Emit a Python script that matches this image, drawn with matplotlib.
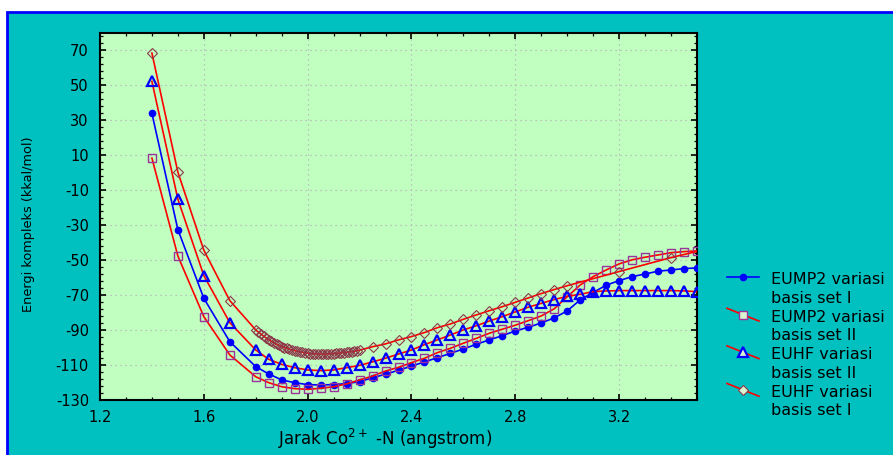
import matplotlib
matplotlib.use('Agg')
import matplotlib.pyplot as plt
from matplotlib.lines import Line2D
from matplotlib.legend_handler import HandlerBase
from matplotlib.patches import Rectangle
from matplotlib.ticker import MultipleLocator

plt.rcParams['font.family'] = ['DejaVu Sans']

# ---------------- data ----------------
x_main = [1.4, 1.5, 1.6, 1.7, 1.8, 1.85, 1.9, 1.95, 2.0, 2.05, 2.1, 2.15, 2.2,
          2.25, 2.3, 2.35, 2.4, 2.45, 2.5, 2.55, 2.6, 2.65, 2.7, 2.75, 2.8,
          2.85, 2.9, 2.95, 3.0, 3.05, 3.1, 3.15, 3.2, 3.25, 3.3, 3.35, 3.4,
          3.45, 3.5]

eump2_set1 = [34.0, -32.5, -71.8, -96.6, -110.9, -115.1, -118.5, -120.1, -121.2,
              -121.4, -121.2, -120.6, -119.5, -117.3, -115.2, -113.0, -110.6,
              -108.2, -105.8, -103.3, -100.8, -98.1, -95.6, -93.2, -90.5, -88.4,
              -85.9, -83.0, -79.0, -72.7, -68.5, -64.3, -61.7, -59.4, -57.9,
              -56.3, -55.6, -54.8, -54.4]

eump2_set2 = [8.4, -47.6, -82.3, -104.2, -116.7, -120.1, -122.4, -123.5, -123.9,
              -123.3, -122.4, -120.8, -118.5, -116.3, -113.4, -111.3, -108.6,
              -106.1, -102.9, -100.4, -97.5, -94.7, -91.8, -89.5, -87.2, -84.6,
              -81.9, -77.8, -70.9, -64.2, -59.4, -55.6, -52.1, -49.8, -48.3,
              -47.0, -45.7, -45.1, -44.7]

euhf_set2 = [52.3, -15.1, -58.8, -85.7, -101.4, -106.7, -109.6, -111.5, -112.8,
             -113.2, -112.8, -111.5, -110.2, -108.2, -106.1, -103.7, -101.4,
             -98.3, -95.6, -92.8, -89.9, -87.5, -84.8, -82.3, -79.6, -76.9,
             -74.7, -72.5, -70.7, -69.5, -68.0, -67.6, -67.4, -67.4, -67.4,
             -67.4, -67.4, -67.6, -68.0]

x_euhf_set1 = [1.4, 1.5, 1.6, 1.7,
               1.80, 1.81, 1.82, 1.83, 1.84, 1.85, 1.86, 1.87, 1.88, 1.89,
               1.90, 1.91, 1.92, 1.93, 1.94, 1.95, 1.96, 1.97, 1.98, 1.99,
               2.00, 2.01, 2.02, 2.03, 2.04, 2.05, 2.06, 2.07, 2.08, 2.09,
               2.10, 2.11, 2.12, 2.13, 2.14, 2.15, 2.16, 2.17, 2.18, 2.19, 2.20,
               2.25, 2.3, 2.35, 2.4, 2.45, 2.5, 2.55, 2.6, 2.65, 2.7, 2.75, 2.8,
               2.85, 2.9, 2.95, 3.0, 3.2, 3.4, 3.6]

euhf_set1 = [68.5, 0.4, -44.3, -73.1,
             -89.9, -91.1, -92.3, -93.4, -94.5, -95.5, -96.4, -97.2, -98.0, -98.8,
             -99.5, -100.0, -100.5, -101.0, -101.4, -101.8, -102.1, -102.4, -102.7, -103.0,
             -103.2, -103.4, -103.5, -103.6, -103.7, -103.7, -103.7, -103.7, -103.6, -103.5,
             -103.4, -103.3, -103.2, -103.0, -102.9, -102.7, -102.5, -102.3, -102.1, -101.8, -101.5,
             -99.5, -97.9, -95.6, -93.7, -91.4, -88.6, -86.5, -83.8, -81.3, -78.9, -76.6, -74.1,
             -71.6, -69.1, -66.8, -64.6, -56.5, -48.5, -41.5]

labels = ['EUMP2 variasi\nbasis set I', 'EUMP2 variasi\nbasis set II',
          'EUHF variasi\nbasis set II', 'EUHF variasi\nbasis set I']

x_ticks = [1.2, 1.6, 2.0, 2.4, 2.8, 3.2]
y_ticks = [70, 50, 30, 10, -10, -30, -50, -70, -90, -110, -130]

# ---------------- figure ----------------
W, H = 893, 455
fig = plt.figure(figsize=(W / 100, H / 100), dpi=100, facecolor='white')
fig.patches.append(Rectangle((7 / W, -0.05), 1.1, (H - 12) / H + 0.05,
                             transform=fig.transFigure, facecolor='#00C0C0',
                             edgecolor='#0000FF', linewidth=2, zorder=-10))

ax = fig.add_axes([100 / W, 55 / H, 597 / W, 367 / H])
ax.set_facecolor('#C0FFC0')

lw = 1.2
h1, = ax.plot(x_main, eump2_set1, color='#0000FF', lw=lw, marker='o', ms=4.5,
              mfc='#0000FF', mec='#0000FF', zorder=3)
h2, = ax.plot(x_main, eump2_set2, color='#FF0000', lw=lw, marker='s', ms=5.5,
              mfc='none', mec='#993399', mew=1.0, zorder=3)
h3, = ax.plot(x_main, euhf_set2, color='#FF0000', lw=lw, marker='^', ms=6.5,
              mfc='none', mec='#0000FF', mew=1.6, zorder=3)
h4, = ax.plot(x_euhf_set1, euhf_set1, color='#FF0000', lw=lw, marker='D', ms=4.7,
              mfc='none', mec='#8B3A4A', mew=0.8, zorder=4)

ax.set_xlim(1.2, 3.5)
ax.set_ylim(-130, 80)
ax.set_xticks(x_ticks)
ax.set_xticklabels([f'{v:.1f}' for v in x_ticks])
ax.set_yticks(y_ticks)
ax.set_yticklabels([str(v) for v in y_ticks])
ax.xaxis.set_minor_locator(MultipleLocator(0.1))
ax.yaxis.set_minor_locator(MultipleLocator(4, offset=2))
ax.tick_params(which='both', direction='in', top=True, right=True, color='black')
ax.tick_params(which='major', length=4, width=1.2, labelsize=10.5, pad=7)
ax.tick_params(which='minor', length=2.5, width=0.9)
ax.tick_params(axis='y', which='major', pad=8)
for s in ax.spines.values():
    s.set_linewidth(1.5)
    s.set_color('black')
ax.grid(which='major', color='#B8B0B8', linestyle=(0, (1, 3)), linewidth=0.9)
ax.set_axisbelow(True)

ax.set_xlabel('Jarak Co$^{2+}$ -N (angstrom)', fontsize=12)
ax.xaxis.set_label_coords(0.477, -0.072)
ax.set_ylabel('Energi kompleks (kkal/mol)', fontsize=9.3)
ax.yaxis.set_label_coords(-0.1086, 0.478)


class SlantHandler(HandlerBase):
    def __init__(self, slant, **kw):
        super().__init__(**kw)
        self.slant = slant

    def create_artists(self, legend, orig, xd, yd, width, height, fontsize, trans):
        yc = (height - yd) / 2 + fontsize * 0.76
        x0, x1 = -xd, -xd + width
        dy = self.slant * width
        line = Line2D([x0, x1], [yc + dy, yc - dy], color=orig.get_color(), lw=1.2)
        mfc = orig.get_markerfacecolor()
        if mfc == 'none':
            mfc = '#D8F4D0'
        mk = Line2D([(x0 + x1) / 2], [yc], ls='none', marker=orig.get_marker(),
                    ms=orig.get_markersize(), mfc=mfc, mec=orig.get_markeredgecolor(),
                    mew=orig.get_markeredgewidth())
        line.set_transform(trans)
        mk.set_transform(trans)
        return [line, mk]


leg = fig.legend([h1, h2, h3, h4], labels, loc='upper left',
                 bbox_to_anchor=(727 / W, (H - 272) / H), frameon=False,
                 fontsize=11.5, handlelength=2.0, handletextpad=0.75,
                 labelspacing=0.25, borderpad=0, borderaxespad=0,
                 handler_map={h1: SlantHandler(0.0), h2: SlantHandler(0.2),
                              h3: SlantHandler(0.2), h4: SlantHandler(0.2)})
for t in leg.get_texts():
    t.set_linespacing(1.3)

fig.savefig('out.png', dpi=100, facecolor=fig.get_facecolor())
